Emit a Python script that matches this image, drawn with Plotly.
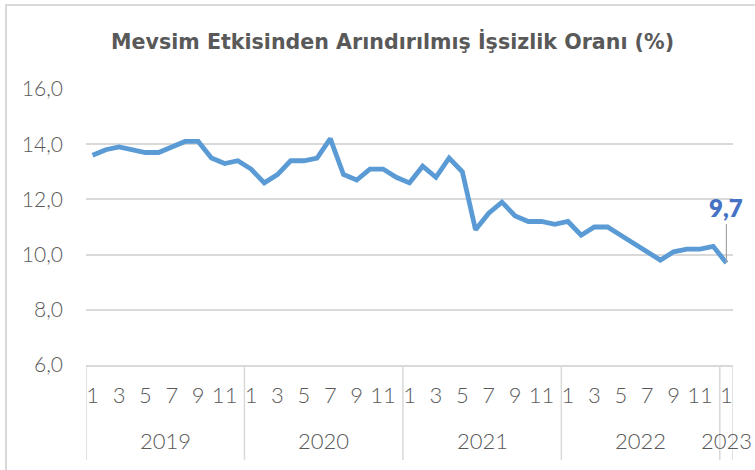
import plotly.graph_objects as go

# ---- data ----
year_labels = ["2019", "2020", "2021", "2022", "2023"]
months_per_year = [12, 12, 12, 12, 1]
month_labels = [m for n in months_per_year for m in range(1, n + 1)]
unemployment = [
    13.6, 13.8, 13.9, 13.8, 13.7, 13.7, 13.9, 14.1, 14.1, 13.5, 13.3, 13.4,   # 2019
    13.1, 12.6, 12.9, 13.4, 13.4, 13.5, 14.2, 12.9, 12.7, 13.1, 13.1, 12.8,   # 2020
    12.6, 13.2, 12.8, 13.5, 13.0, 10.9, 11.5, 11.9, 11.4, 11.2, 11.2, 11.1,   # 2021
    11.2, 10.7, 11.0, 11.0, 10.7, 10.4, 10.1, 9.8, 10.1, 10.2, 10.2, 10.3,    # 2022
    9.7,                                                                       # 2023
]
y_ticks = [6, 8, 10, 12, 14, 16]

x = list(range(len(unemployment)))
tickvals = [i for i, m in zip(x, month_labels) if m % 2 == 1]
ticktext = [str(month_labels[i]) for i in tickvals]

GRID = "#d9d9d9"
TXT = "#595959"
FONT = "Lato"

fig = go.Figure()
fig.add_trace(go.Scatter(
    x=x, y=unemployment, mode="lines",
    line=dict(color="#5B9BD5", width=4.8),
    hoverinfo="skip",
))

# year group boundaries and centers
bounds = [-0.5]
for n in months_per_year:
    bounds.append(bounds[-1] + n)
shapes = []
for b in bounds:
    shapes.append(dict(type="line", xref="x", yref="paper", x0=b, x1=b,
                       y0=0, y1=-0.344, line=dict(color=GRID, width=1.5)))
# outer chart border
shapes.append(dict(type="rect", xref="paper", yref="paper",
                   x0=-0.1236, x1=1.3, y0=-0.6, y1=1.304,
                   line=dict(color=GRID, width=2), fillcolor="rgba(0,0,0,0)"))

annotations = []
for lab, b0, b1 in zip(year_labels, bounds[:-1], bounds[1:]):
    annotations.append(dict(x=(b0 + b1) / 2, y=-0.272, xref="x", yref="paper",
                            text=lab, showarrow=False, yanchor="middle",
                            font=dict(family=FONT, size=22, color=TXT, weight=300)))
# last value label
annotations.append(dict(x=x[-1], y=unemployment[-1], xref="x", yref="y",
                        text=f"{unemployment[-1]:.1f}".replace(".", ","),
                        showarrow=True, arrowhead=0, arrowwidth=1.2,
                        arrowcolor="#a6a6a6", ax=0, ay=-55,
                        font=dict(family=FONT, size=24, color="#4472C4", weight=800)))

fig.update_layout(
    width=755, height=470,
    margin=dict(l=86, r=22, t=89, b=105),
    paper_bgcolor="white", plot_bgcolor="white",
    separators=",.",
    showlegend=False,
    title=dict(text="<b>Mevsim Etkisinden Arındırılmış İşsizlik Oranı (%)</b>",
               x=0.52, xanchor="center", y=0.912, yanchor="middle",
               font=dict(family="DejaVu Sans", size=20.6, color=TXT)),
    shapes=shapes,
    annotations=annotations,
    xaxis=dict(range=[-0.5, len(x) - 0.5], tickmode="array",
               tickvals=tickvals, ticktext=ticktext, showgrid=False,
               showline=True, linecolor=GRID, linewidth=1.5, ticks="",
               ticklabelstandoff=10,
               tickfont=dict(family=FONT, size=22, color=TXT, weight=300),
               zeroline=False, fixedrange=True),
    yaxis=dict(range=[6, 16], tickmode="array", tickvals=y_ticks,
               tickformat=".1f", showgrid=True, gridcolor=GRID, gridwidth=1.5,
               zeroline=False, showline=False, ticks="",
               ticklabelstandoff=22,
               tickfont=dict(family=FONT, size=21, color=TXT, weight=300),
               fixedrange=True),
)

fig.write_html("out.html", config={"displayModeBar": False},
               post_script="document.body.style.margin='0';")
